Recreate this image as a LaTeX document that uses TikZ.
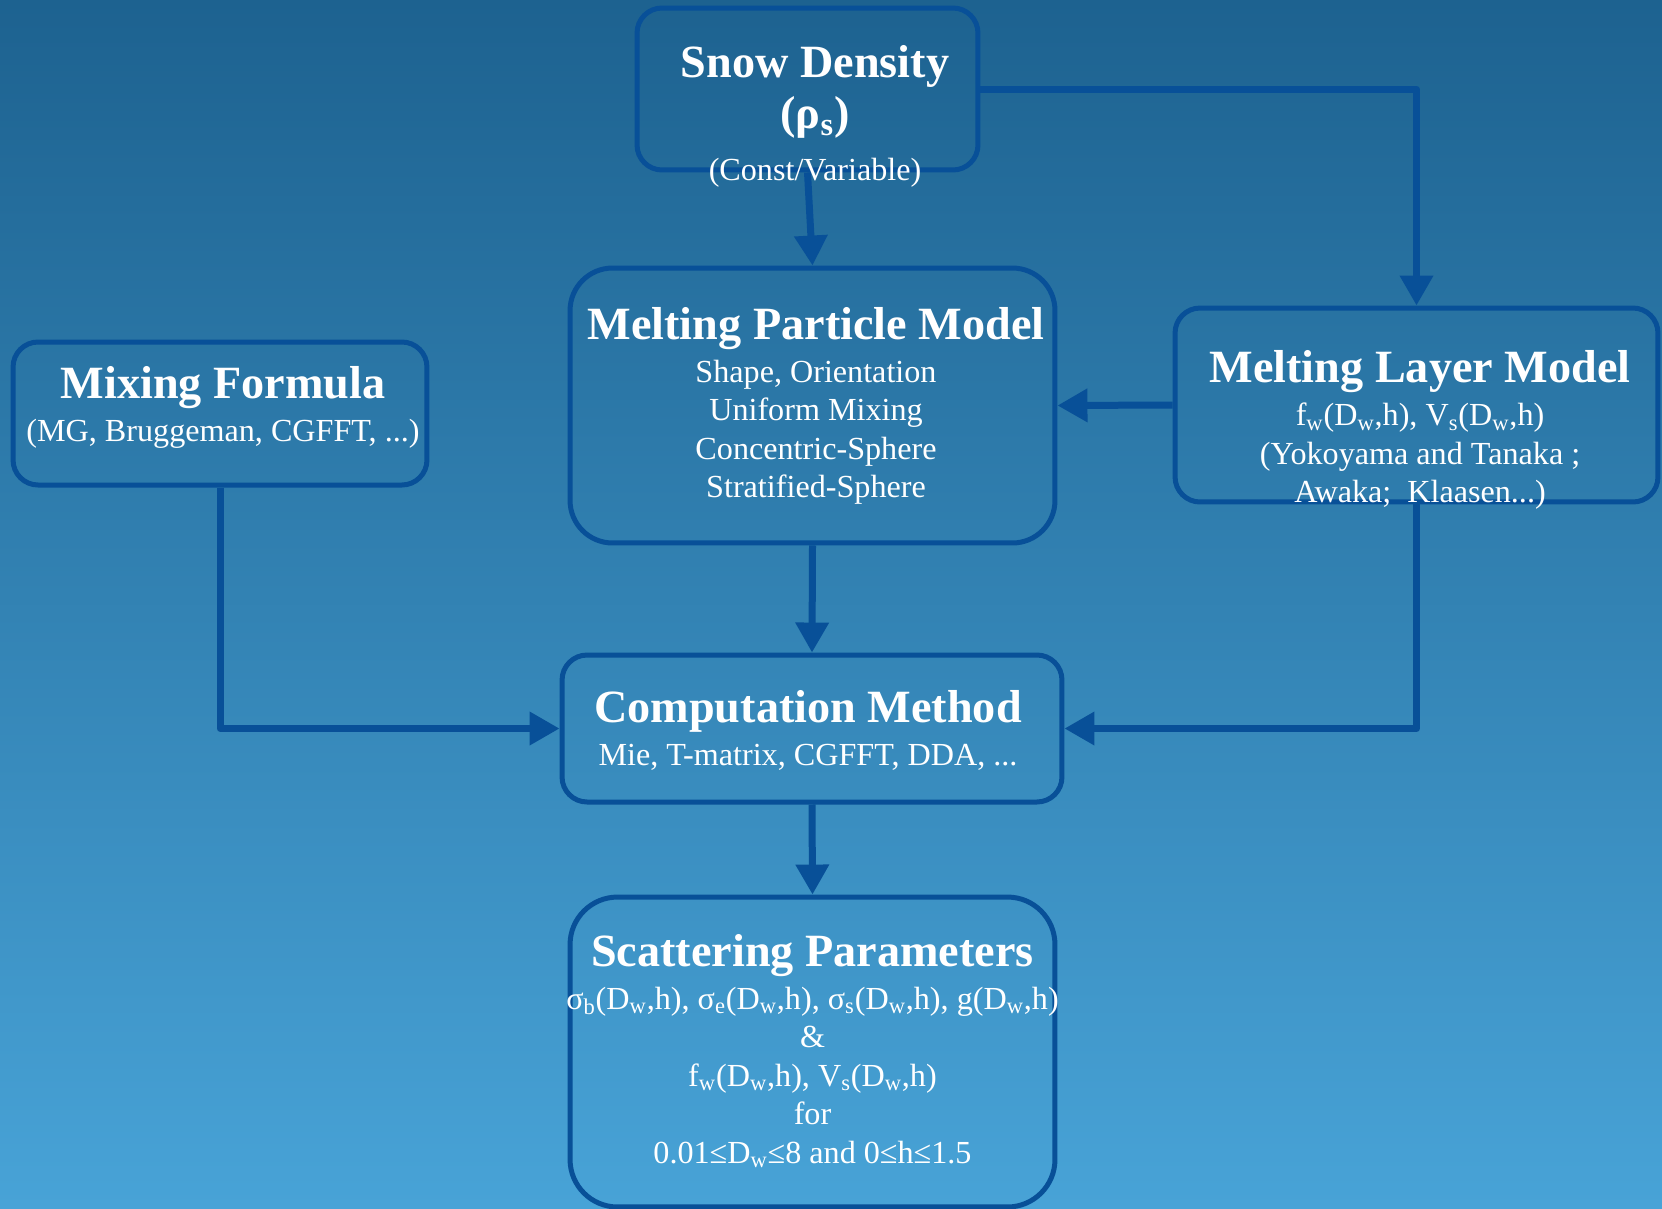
\documentclass[tikz,border=0pt]{standalone}
\usepackage{fontspec}
\setmainfont{Liberation Serif}
\usetikzlibrary{arrows.meta,positioning}
\definecolor{deepsea}{RGB}{29,98,144}
\definecolor{shallow}{RGB}{72,163,215}
\definecolor{rim}{RGB}{8,80,152}
\newcommand{\lo}[1]{\textsubscript{#1}}
\newcommand{\headfont}{\fontsize{26.3}{30}\selectfont\bfseries}
\tikzset{
  >={Triangle[length=0.6cm,width=0.64cm]},
  box/.style={draw=rim,line width=0.1cm,rounded corners=#1},
  box/.default=0.5cm,
  flow/.style={->,line width=0.14cm,draw=rim,line join=round},
  txt/.style={text=white,align=center,font=\fontsize{18.3}{21.9}\selectfont},
}

\begin{document}
\begin{tikzpicture}[x=0.02cm,y=-0.02cm]
  \shade[top color=deepsea,bottom color=shallow] (0,0) rectangle (1662,1208);
  \useasboundingbox (0,0) rectangle (1662,1208);
  % boxes
  \node[box,minimum width=6.82cm,minimum height=3.24cm] (snow) at (807.5,89) {};
  \node[box=0.85cm,minimum width=9.7cm,minimum height=5.5cm] (particle) at (812.5,405.5) {};
  \node[box,minimum width=9.66cm,minimum height=3.88cm] (layer) at (1416.5,405) {};
  \node[box,minimum width=8.28cm,minimum height=2.86cm] (mixing) at (220,413.5) {};
  \node[box,minimum width=10cm,minimum height=2.94cm] (comp) at (812,728.5) {};
  \node[box=0.95cm,minimum width=9.7cm,minimum height=6.2cm] (scatter) at (812.5,1052) {};
  % connectors
  \draw[flow] (snow.south) -- (particle.north);
  \draw[flow] (snow.east) -| (layer.north);
  \draw[flow] (layer.west) -- (particle.east);
  \draw[flow] (particle.south) -- (comp.north);
  \draw[flow] (mixing.south) |- (comp.west);
  \draw[flow] (layer.south) |- (comp.east);
  \draw[flow] (comp.south) -- (scatter.north);
  % texts
  \node[txt] (snowtxt) at (815,116) {{\headfont Snow Density}\\[4.4pt]{\headfont (ρ\lo{s})}\\[7.4pt](Const/Variable)};
  \node[txt] (particletxt) at (816,406) {{\headfont Melting Particle Model}\\[2.6pt]
    Shape, Orientation\\Uniform Mixing\\Concentric-Sphere\\Stratified-Sphere};
  \node[txt] (layertxt) at (1420,430) {{\headfont Melting Layer Model}\\[2.6pt]
    f\lo{w}(D\lo{w},h), V\lo{s}(D\lo{w},h)\\(Yokoyama and Tanaka ;\\Awaka;~ Klaasen...)};
  \node[txt] (mixingtxt) at (223,407) {{\headfont Mixing Formula}\\[2.6pt](MG, Bruggeman, CGFFT, ...)};
  \node[txt] (comptxt) at (808,730) {{\headfont Computation Method}\\[2.6pt]Mie, T-matrix, CGFFT, DDA, ...};
  \node[txt] (scattertxt) at (812.5,1051) {{\headfont Scattering Parameters}\\[2.6pt]
    σ\lo{b}(D\lo{w},h), σ\lo{e}(D\lo{w},h), σ\lo{s}(D\lo{w},h), g(D\lo{w},h)\\\&\\
    f\lo{w}(D\lo{w},h), V\lo{s}(D\lo{w},h)\\for\\0.01≤D\lo{w}≤8 and 0≤h≤1.5};
\end{tikzpicture}
\end{document}
